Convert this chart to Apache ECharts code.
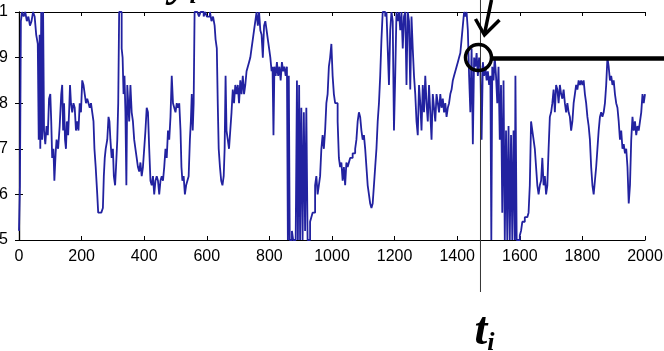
<!DOCTYPE html>
<html lang="en">
<head>
    <meta charset="UTF-8" />
    <title>Document</title>
    <script src="https://cdn.jsdelivr.net/npm/echarts@6/dist/echarts.min.js"></script>
    <style>
        html, body { margin: 0; padding: 0; background: #fff; }
    </style>
</head>
<body>
    <div id="div1" style="width: 664px; height: 351px"></div>

    <script>
        // 采样点 (x, y) —— 从图上读出
        var xArr = [
            0, 3, 6, 10, 15, 20, 25, 30, 35, 40, 45, 50, 55, 60, 63, 66, 68, 71, 74, 77, 80, 84, 88, 92, 96, 100,
            103, 106, 110, 113, 117, 120, 125, 130, 135, 138, 141, 144, 147, 150, 153, 157, 160, 163, 166, 170, 174, 178, 182, 186, 190, 194, 198,
            202, 206, 210, 214, 218, 222, 226, 230, 234, 238, 241, 245, 250, 253, 258, 263, 268, 271, 274, 277, 282, 286, 289, 292, 296, 300,
            303, 307, 310, 314, 317, 320, 324, 328, 331, 334, 337, 340, 343, 346, 349, 352, 356, 360, 364, 368, 372, 376, 380, 384, 388, 392, 396,
            400, 404, 408, 412, 416, 420, 424, 428, 432, 436, 440, 444, 448, 452, 456, 460, 464, 468, 472, 476, 480, 484, 488, 492, 496, 500,
            504, 508, 512, 516, 519, 522, 526, 530, 534, 538, 542, 546, 549, 552, 555, 558, 561, 565, 570, 575, 580, 585, 590, 595, 600,
            605, 610, 615, 620, 625, 628, 632, 635, 638, 642, 646, 650, 654, 657, 660, 663, 667, 671, 675, 679, 683, 687, 691, 695, 699,
            703, 707, 711, 715, 719, 723, 727, 731, 735, 739, 743, 747, 751, 755, 759, 763, 767, 771, 775, 779, 783, 787, 791, 795, 799,
            803, 807, 810, 813, 816, 820, 824, 828, 832, 836, 840, 844, 848, 852, 856, 859, 862, 865, 868, 872, 876, 880, 884, 888, 891, 895, 898,
            902, 906, 910, 914, 918, 922, 926, 930, 934, 938, 942, 946, 950, 954, 958, 962, 966, 970, 974, 978, 982, 986, 990, 994, 998,
            1002, 1006, 1010, 1014, 1018, 1022, 1026, 1030, 1034, 1038, 1042, 1046, 1050, 1054, 1058, 1062, 1066, 1070, 1074, 1078, 1082, 1086, 1090, 1094, 1098,
            1102, 1106, 1110, 1114, 1118, 1122, 1126, 1130, 1134, 1138, 1142, 1146, 1150, 1154, 1158, 1162, 1166, 1170, 1174, 1178, 1182, 1186, 1190, 1194, 1198,
            1202, 1206, 1210, 1214, 1218, 1222, 1226, 1230, 1234, 1238, 1242, 1246, 1250, 1254, 1258, 1262, 1266, 1270, 1274, 1278, 1282, 1286, 1290, 1294, 1298,
            1302, 1306, 1310, 1314, 1318, 1322, 1326, 1330, 1334, 1338, 1342, 1346, 1350, 1354, 1358, 1362, 1366, 1370, 1374, 1378, 1382, 1386, 1390, 1394, 1398,
            1402, 1406, 1410, 1414, 1418, 1422, 1426, 1430, 1434, 1438, 1442, 1446, 1450, 1454, 1458, 1462, 1466, 1470, 1474, 1478, 1482, 1486, 1490, 1494, 1498,
            1502, 1506, 1509, 1512, 1516, 1520, 1524, 1528, 1532, 1536, 1540, 1544, 1548, 1552, 1556, 1560, 1564, 1568, 1572, 1576, 1580, 1584, 1586, 1590, 1595, 1600,
            1604, 1608, 1612, 1616, 1620, 1624, 1628, 1632, 1636, 1640, 1644, 1648, 1652, 1656, 1660, 1664, 1668, 1672, 1676, 1680, 1684, 1688, 1692, 1696, 1700,
            1704, 1708, 1712, 1716, 1720, 1724, 1728, 1732, 1736, 1740, 1744, 1748, 1752, 1756, 1760, 1764, 1768, 1772, 1776, 1780, 1784, 1788, 1792, 1796, 1800,
            1804, 1808, 1812, 1816, 1820, 1824, 1828, 1832, 1836, 1840, 1844, 1848, 1852, 1856, 1860, 1864, 1868, 1872, 1876, 1880, 1884, 1888, 1892, 1896, 1900,
            1904, 1908, 1912, 1916, 1920, 1924, 1928, 1932, 1936, 1940, 1944, 1948, 1952, 1956, 1960, 1964, 1968, 1972, 1976, 1980, 1984, 1988, 1992, 1996, 2000
        ];
        var yArr = [
            0.52, 0.62, 0.98, 1.0, 0.99, 1.0, 0.98, 0.99, 0.97, 0.98, 1.0, 0.99, 0.95, 0.93, 0.72, 0.95, 0.70, 1.0, 0.72, 1.0, 0.74, 0.71, 0.75, 0.73, 0.81, 0.82,
            0.76, 0.68, 0.70, 0.63, 0.69, 0.72, 0.70, 0.75, 0.82, 0.84, 0.74, 0.80, 0.72, 0.70, 0.76, 0.73, 0.78, 0.84, 0.80, 0.78, 0.80, 0.79, 0.74, 0.76, 0.74, 0.80, 0.78,
            0.85, 0.84, 0.82, 0.80, 0.81, 0.80, 0.79, 0.80, 0.78, 0.76, 0.70, 0.66, 0.60, 0.56, 0.56, 0.56, 0.57, 0.64, 0.68, 0.70, 0.72, 0.77, 0.76, 0.72, 0.68, 0.70,
            0.64, 0.62, 0.66, 0.72, 0.80, 1.0, 1.0, 0.92, 0.90, 0.82, 0.86, 0.78, 0.62, 0.84, 0.80, 0.76, 0.84, 0.78, 0.76, 0.72, 0.70, 0.68, 0.66, 0.65, 0.67, 0.64, 0.66,
            0.70, 0.74, 0.79, 0.78, 0.70, 0.63, 0.62, 0.64, 0.60, 0.63, 0.64, 0.63, 0.60, 0.63, 0.64, 0.63, 0.66, 0.70, 0.68, 0.74, 0.72, 0.77, 0.86, 0.80, 0.79, 0.78,
            0.80, 0.79, 0.80, 0.74, 0.66, 0.63, 0.64, 0.60, 0.62, 0.63, 0.64, 0.72, 0.76, 0.82, 0.74, 0.80, 1.0, 1.0, 1.0, 0.99, 1.0, 1.0, 0.99, 1.0, 0.99,
            0.99, 1.0, 0.98, 0.99, 0.97, 0.94, 0.92, 0.80, 0.70, 0.66, 0.63, 0.62, 0.64, 0.70, 0.86, 0.74, 0.72, 0.70, 0.74, 0.78, 0.83, 0.80, 0.84, 0.82, 0.84,
            0.80, 0.85, 0.82, 0.86, 0.82, 0.84, 0.87, 0.88, 0.89, 0.90, 0.92, 0.94, 0.96, 0.98, 1.0, 0.97, 1.0, 0.96, 0.95, 0.90, 0.97, 0.98, 0.96, 0.94, 0.92,
            0.90, 0.87, 0.88, 0.73, 0.88, 0.86, 0.89, 0.86, 0.88, 0.85, 0.89, 0.87, 0.88, 0.86, 0.88, 0.50, 0.86, 0.50, 0.50, 0.52, 0.50, 0.50, 0.50, 0.85, 0.50, 0.84, 0.50,
            0.79, 0.50, 0.78, 0.52, 0.79, 0.50, 0.50, 0.54, 0.55, 0.56, 0.56, 0.62, 0.64, 0.60, 0.62, 0.64, 0.70, 0.73, 0.70, 0.74, 0.80, 0.82, 0.88, 0.90, 0.93,
            0.86, 0.82, 0.80, 0.80, 0.76, 0.68, 0.66, 0.67, 0.63, 0.66, 0.62, 0.67, 0.66, 0.67, 0.68, 0.68, 0.69, 0.69, 0.70, 0.72, 0.76, 0.78, 0.77, 0.74, 0.72,
            0.73, 0.70, 0.66, 0.62, 0.60, 0.58, 0.57, 0.58, 0.62, 0.66, 0.70, 0.76, 0.80, 0.86, 0.94, 1.0, 1.0, 0.99, 1.0, 0.92, 0.84, 0.96, 1.0, 0.98, 0.74,
            0.86, 1.0, 0.98, 1.0, 0.96, 1.0, 0.92, 0.99, 1.0, 0.84, 1.0, 0.98, 0.83, 0.99, 0.92, 0.86, 0.82, 0.76, 0.73, 0.84, 0.80, 0.74, 0.84, 0.78, 0.86,
            0.80, 0.76, 0.84, 0.78, 0.72, 0.82, 0.79, 0.76, 0.82, 0.80, 0.78, 0.82, 0.79, 0.81, 0.78, 0.80, 0.77, 0.79, 0.80, 0.82, 0.83, 0.85, 0.86, 0.87, 0.88,
            0.89, 0.90, 0.91, 0.94, 0.97, 1.0, 0.99, 1.0, 0.96, 0.86, 0.78, 0.92, 0.71, 0.90, 0.88, 0.91, 0.86, 0.90, 0.88, 0.72, 0.89, 0.86, 0.88, 0.85, 0.87,
            0.84, 0.86, 0.50, 0.88, 0.85, 0.90, 0.86, 0.80, 0.88, 0.72, 0.84, 0.56, 0.85, 0.50, 0.74, 0.50, 0.75, 0.50, 0.73, 0.50, 0.74, 0.50, 0.86, 0.50, 0.50, 0.51,
            0.52, 0.54, 0.54, 0.55, 0.55, 0.55, 0.56, 0.62, 0.76, 0.74, 0.72, 0.70, 0.66, 0.62, 0.60, 0.62, 0.63, 0.68, 0.62, 0.64, 0.60, 0.62, 0.70, 0.77, 0.78,
            0.80, 0.83, 0.78, 0.84, 0.83, 0.80, 0.84, 0.82, 0.81, 0.83, 0.80, 0.78, 0.80, 0.78, 0.77, 0.74, 0.76, 0.80, 0.82, 0.84, 0.83, 0.85, 0.84, 0.85, 0.84,
            0.85, 0.82, 0.80, 0.77, 0.75, 0.72, 0.66, 0.62, 0.60, 0.63, 0.66, 0.70, 0.74, 0.77, 0.78, 0.77, 0.78, 0.80, 0.84, 0.90, 0.88, 0.85, 0.86, 0.84, 0.85,
            0.82, 0.80, 0.79, 0.76, 0.72, 0.74, 0.70, 0.71, 0.69, 0.70, 0.66, 0.58, 0.62, 0.72, 0.77, 0.74, 0.76, 0.73, 0.75, 0.74, 0.76, 0.78, 0.82, 0.80, 0.82
        ];

        // 坐标轴范围
        var xMin = 0, xMax = 2000, xStep = 200;
        var yMin = 0.5, yMax = 1, yStep = 0.1;

        // 标注点 t_i
        var tI = 1468;
        var yMark = 0.9;

        var lineData = xArr.map(function (x, i) { return [x, yArr[i]]; });

        var labelFont = "'Liberation Sans', Arial, sans-serif";

        var mCharts = echarts.init(document.querySelector("#div1"));

        var axisLineStyle = { color: "#000", width: 1.2 };

        var option = {
            animation: false,
            backgroundColor: "#fff",
            grid: { left: 19, right: 19, top: 12, bottom: 111, outerBoundsMode: "none" },
            xAxis: [
                {
                    type: "value",
                    min: xMin,
                    max: xMax,
                    interval: xStep,
                    position: "bottom",
                    axisLine: { show: true, lineStyle: axisLineStyle },
                    axisTick: { inside: true, length: 4, lineStyle: { color: "#000" } },
                    axisLabel: {
                        margin: 9,
                        fontFamily: labelFont,
                        fontSize: 16,
                        color: "#000",
                        formatter: function (v) { return String(v); },
                    },
                    splitLine: { show: false },
                },
                {
                    type: "value",
                    min: xMin,
                    max: xMax,
                    interval: xStep,
                    position: "top",
                    axisLine: { show: true, lineStyle: axisLineStyle },
                    axisTick: { inside: true, length: 4, lineStyle: { color: "#000" } },
                    axisLabel: { show: false },
                    splitLine: { show: false },
                },
            ],
            yAxis: [
                {
                    type: "value",
                    min: yMin,
                    max: yMax,
                    interval: yStep,
                    position: "left",
                    axisLine: { show: true, lineStyle: axisLineStyle },
                    axisTick: { inside: true, length: 4, lineStyle: { color: "#000" } },
                    axisLabel: {
                        margin: 11,
                        fontFamily: labelFont,
                        fontSize: 16,
                        color: "#000",
                        formatter: function (v) {
                            return v >= 1 ? "1" : "." + Math.round(v * 10);
                        },
                    },
                    splitLine: { show: false },
                },
                {
                    type: "value",
                    min: yMin,
                    max: yMax,
                    interval: yStep,
                    position: "right",
                    axisLine: { show: true, lineStyle: axisLineStyle },
                    axisTick: { inside: true, length: 4, lineStyle: { color: "#000" } },
                    axisLabel: { show: false },
                    splitLine: { show: false },
                },
            ],
            series: [
                {
                    type: "line",
                    data: lineData,
                    step: "end",
                    symbol: "none",
                    lineStyle: { color: "#2222a0", width: 1.8 },
                },
            ],
        };
        mCharts.setOption(option);

        // 标注: 竖线、圆圈、横线、箭头、t_i
        var p = mCharts.convertToPixel({ xAxisIndex: 0, yAxisIndex: 0 }, [tI, yMark]);
        var cx = p[0], cy = p[1];
        var bottomY = mCharts.convertToPixel({ yAxisIndex: 0 }, yMin);

        mCharts.setOption({
            graphic: [
                {
                    type: "line",
                    shape: { x1: cx + 2, y1: 0, x2: cx + 2, y2: bottomY + 52 },
                    style: { stroke: "#333", lineWidth: 1 },
                    z: 100,
                },
                {
                    type: "circle",
                    shape: { cx: cx, cy: cy, r: 13 },
                    style: { fill: "none", stroke: "#000", lineWidth: 3.5 },
                    z: 101,
                },
                {
                    type: "line",
                    shape: { x1: cx + 13, y1: cy + 1, x2: 664, y2: cy + 1 },
                    style: { stroke: "#000", lineWidth: 4.5 },
                    z: 101,
                },
                {
                    type: "polyline",
                    shape: { points: [[cx + 13, 0], [cx + 6, 34]] },
                    style: { stroke: "#000", lineWidth: 3.5, fill: null },
                    z: 101,
                },
                {
                    type: "polyline",
                    shape: { points: [[cx - 3, 19], [cx + 6, 35], [cx + 21, 20]] },
                    style: { stroke: "#000", lineWidth: 3.5, fill: null, lineJoin: "miter" },
                    z: 101,
                },
                {
                    type: "text",
                    x: cx - 4,
                    y: bottomY + 68,
                    style: {
                        text: "{t|t}{i|i}",
                        rich: {
                            t: { fontFamily: "'Liberation Serif', serif", fontWeight: "bold", fontStyle: "italic", fontSize: 46, fill: "#000" },
                            i: { fontFamily: "'Liberation Serif', serif", fontWeight: "bold", fontStyle: "italic", fontSize: 26, fill: "#000", padding: [22, 0, 0, 0] },
                        },
                    },
                    z: 101,
                },
                {
                    type: "text",
                    x: 170,
                    y: -39,
                    style: {
                        text: "{y|y}{i|i}",
                        rich: {
                            y: { fontFamily: "'Liberation Serif', serif", fontWeight: "bold", fontStyle: "italic", fontSize: 44, fill: "#000" },
                            i: { fontFamily: "'Liberation Serif', serif", fontWeight: "bold", fontStyle: "italic", fontSize: 26, fill: "#000", padding: [22, 0, 0, 0] },
                        },
                    },
                    z: 101,
                },
            ],
        });
    </script>
</body>
</html>
